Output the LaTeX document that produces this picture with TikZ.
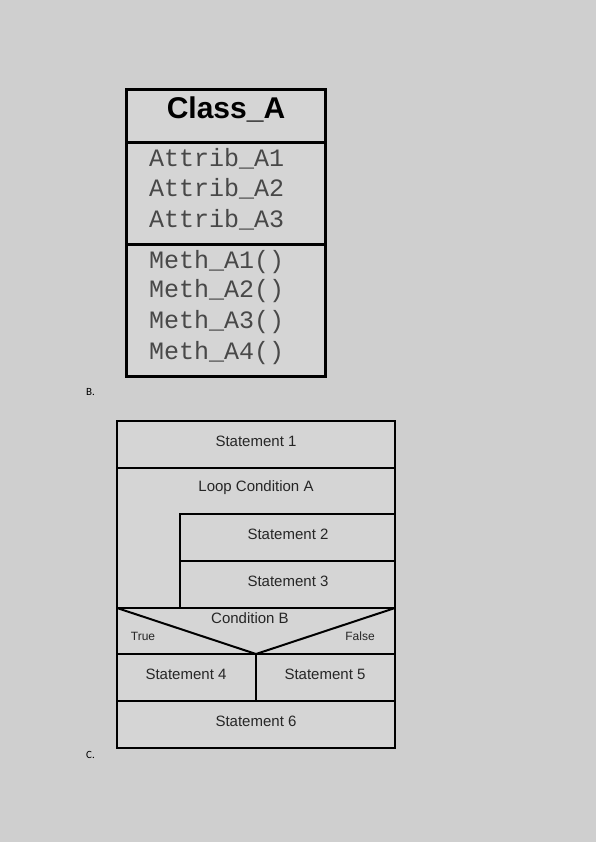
\documentclass[tikz,border=0pt]{standalone}
\usepackage{fontspec}
\setmainfont{Liberation Sans}
\setmonofont{Liberation Mono}
\newfontfamily\labelfont{Carlito}
\definecolor{pagegray}{RGB}{207,207,207}
\definecolor{boxgray}{RGB}{213,213,213}
\definecolor{membergray}{RGB}{72,72,72}
\begin{document}
\begin{tikzpicture}[x=1pt,y=-1pt,
    classline/.style={line width=3pt},
    nsline/.style={line width=2pt},
    member/.style={anchor=base west,inner sep=0pt,text=membergray,
      font=\ttfamily\fontsize{25}{28}\selectfont},
    stmt/.style={inner sep=0pt,text=black!85,font=\fontsize{15}{18}\selectfont},
    branch/.style={inner sep=0pt,text=black!85,font=\fontsize{12}{14}\selectfont},
    partlabel/.style={inner sep=0pt,font=\labelfont\fontsize{11}{13}\selectfont}]
  \fill[pagegray] (0,0) rectangle (596,842);
  \useasboundingbox (0,0) rectangle (596,842);
  % class box
  \begin{scope}
    \draw[classline,fill=boxgray] (126,90) rectangle (325,376);
    \draw[classline] (126,143) -- (325,143);
    \draw[classline] (126,244) -- (325,244);
    \node[anchor=base,inner sep=0pt,font=\bfseries\fontsize{30}{34}\selectfont]
      (classname) at (226,119) {Class\_A};
    \foreach \n/\y in {1/167,2/197,3/228}
      \node[member] (attrib\n) at (149,\y) {Attrib\_A\n};
    \foreach \n/\y in {1/268,2/297,3/328,4/359}
      \node[member] (meth\n) at (149,\y) {Meth\_A\n()};
  \end{scope}
  \node[partlabel,anchor=west] (labelB) at (86,392) {B.};
  % structogram
  \begin{scope}
    \draw[nsline,fill=boxgray] (117,421) rectangle (395,748);
    \draw[nsline] (117,468) -- (395,468);
    \draw[nsline] (180,608) -- (180,514) -- (395,514);
    \draw[nsline] (180,561) -- (395,561);
    \draw[nsline] (117,608) -- (395,608);
    \draw[nsline] (117,608) -- (256,654) -- (395,608);
    \draw[nsline] (117,654) -- (395,654);
    \draw[nsline] (256,654) -- (256,701);
    \draw[nsline] (117,701) -- (395,701);
    \node[stmt] (stmt1) at (256,441) {Statement 1};
    \node[stmt] (loopA) at (256,488) {Loop Condition A};
    \node[stmt] (stmt2) at (288,534) {Statement 2};
    \node[stmt] (stmt3) at (288,581) {Statement 3};
    \node[stmt] (condB) at (250,618) {Condition B};
    \node[branch] (true) at (143,636) {True};
    \node[branch] (false) at (360,636) {False};
    \node[stmt] (stmt4) at (186,674) {Statement 4};
    \node[stmt] (stmt5) at (325,674) {Statement 5};
    \node[stmt] (stmt6) at (256,721) {Statement 6};
  \end{scope}
  \node[partlabel,anchor=west] (labelC) at (86,755) {C.};
\end{tikzpicture}
\end{document}
